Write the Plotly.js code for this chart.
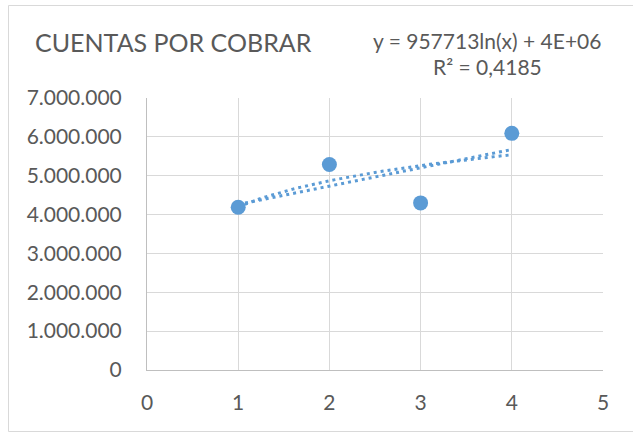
<!DOCTYPE html>
<html>
<head>
<meta charset="utf-8">
<script src="https://cdn.plot.ly/plotly-3.0.1.min.js"></script>
<style>
  html, body { margin: 0; padding: 0; background: #fff; }
  #chart { width: 633px; height: 435px; }
</style>
</head>
<body>
<div id="chart"></div>
<script>
// Data
const periods = [1, 2, 3, 4];
const cuentas = [4190000, 5290000, 4300000, 6090000];
const xTicks = [0, 1, 2, 3, 4, 5];
const yTicks = [0, 1000000, 2000000, 3000000, 4000000, 5000000, 6000000, 7000000];
const chartTitle = 'CUENTAS POR COBRAR';
const eqText = 'y = 957713ln(x) + 4E+06';
const r2Text = 'R² = 0,4185';

const blue = '#5B9BD5';
const textColor = '#595959';
const font = 'Lato, "Open Sans", sans-serif';

// Least-squares fits (Excel trendlines)
function fit(xs, ys) {
  const n = xs.length;
  const mx = xs.reduce((a, b) => a + b, 0) / n;
  const my = ys.reduce((a, b) => a + b, 0) / n;
  let sxy = 0, sxx = 0;
  for (let i = 0; i < n; i++) { sxy += (xs[i] - mx) * (ys[i] - my); sxx += (xs[i] - mx) ** 2; }
  const a = sxy / sxx;
  return { a: a, b: my - a * mx };
}
const logFit = fit(periods.map(Math.log), cuentas);
const linFit = fit(periods, cuentas);

const xMin = Math.min(...periods), xMax = Math.max(...periods);
const curveX = [];
for (let i = 0; i <= 60; i++) curveX.push(xMin + (xMax - xMin) * i / 60);
const logY = curveX.map(x => logFit.a * Math.log(x) + logFit.b);
const linX = [xMin, xMax];
const linY = linX.map(x => linFit.a * x + linFit.b);

const dotted = { color: blue, width: 3, dash: '3px,4px' };
const traces = [
  { x: linX, y: linY, mode: 'lines', line: dotted, hoverinfo: 'skip', showlegend: false },
  { x: curveX, y: logY, mode: 'lines', line: dotted, hoverinfo: 'skip', showlegend: false },
  { x: periods, y: cuentas, mode: 'markers', marker: { color: blue, size: 15 }, showlegend: false }
];

const L = 147, R = 30, T = 98, B = 65, W = 633, H = 435;
const pw = W - L - R, ph = H - T - B;
const px = v => (v - L) / pw;
const py = v => (H - B - v) / ph;

const layout = {
  width: W, height: H,
  margin: { l: L, r: R, t: T, b: B },
  paper_bgcolor: '#fff', plot_bgcolor: '#fff',
  separators: ',.',
  font: { family: font, color: textColor },
  title: {
    text: chartTitle,
    font: { family: font, size: 25, color: textColor },
    xref: 'container', yref: 'container',
    x: 35 / W, xanchor: 'left', y: 1 - 43 / H, yanchor: 'middle'
  },
  xaxis: {
    range: [0, 5], tickvals: xTicks, ticktext: xTicks.map(String),
    showgrid: true, gridcolor: '#d9d9d9', gridwidth: 1,
    zeroline: false, showline: true, linecolor: '#bfbfbf', linewidth: 1,
    ticks: '', ticklabelstandoff: 14,
    tickfont: { family: font, size: 21, color: textColor }, fixedrange: true
  },
  yaxis: {
    range: [0, 7000000], tickvals: yTicks, tickformat: ',d',
    showgrid: true, gridcolor: '#d9d9d9', gridwidth: 1,
    zeroline: false, showline: true, linecolor: '#bfbfbf', linewidth: 1,
    ticks: '', ticklabelstandoff: 20,
    tickfont: { family: font, size: 21, color: textColor }, fixedrange: true
  },
  annotations: [
    { text: eqText, xref: 'paper', yref: 'paper', x: px(487), y: py(40), xanchor: 'center', yanchor: 'middle',
      showarrow: false, font: { family: font, size: 21, color: textColor } },
    { text: r2Text, xref: 'paper', yref: 'paper', x: px(487), y: py(67), xanchor: 'center', yanchor: 'middle',
      showarrow: false, font: { family: font, size: 21, color: textColor } }
  ],
  shapes: [
    { type: 'rect', xref: 'paper', yref: 'paper', x0: px(8.5), x1: px(660), y0: py(431.5), y1: py(5.5),
      line: { color: '#d9d9d9', width: 1 }, fillcolor: 'rgba(0,0,0,0)', layer: 'below' }
  ]
};

Plotly.newPlot('chart', traces, layout, { displayModeBar: false, staticPlot: true });
</script>
</body>
</html>
